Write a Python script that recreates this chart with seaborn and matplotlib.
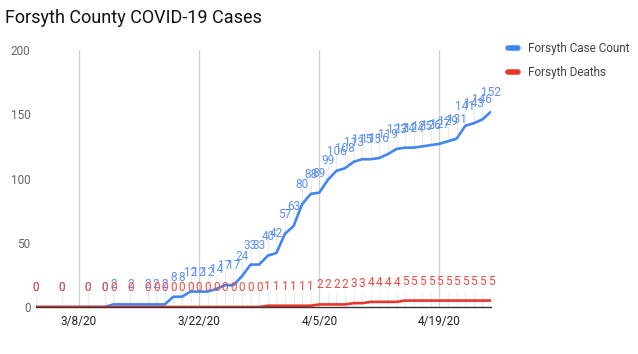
import matplotlib
matplotlib.use("Agg")
import matplotlib.pyplot as plt
import matplotlib.dates as mdates
import seaborn as sns
import pandas as pd
import numpy as np

# ---- data ----
dates = ["2020-03-03", "2020-03-06", "2020-03-09", "2020-03-11", "2020-03-12", "2020-03-14"] + \
    [d.strftime("%Y-%m-%d") for d in pd.date_range("2020-03-16", "2020-04-25", freq="D")]
case_count = [0, 0, 0, 0, 2, 2,
              2, 2, 2, 8, 8, 12, 12, 12, 14, 17, 17, 24, 33, 33, 40, 42,
              57, 63, 80, 88, 89,
              99, 106, 108, 113, 115, 115, 116, 119, 123, 124, 124, 125, 126, 127,
              129, 131, 141, 143, 146, 152]
deaths = [0] * 20 + [1] * 6 + [2] * 4 + [3] * 2 + [4] * 4 + [5] * 11
series_names = ["Forsyth Case Count", "Forsyth Deaths"]
tick_dates = ["2020-03-08", "2020-03-22", "2020-04-05", "2020-04-19"]
tick_labels = ["3/8/20", "3/22/20", "4/5/20", "4/19/20"]
y_ticks = [0, 50, 100, 150, 200]
title = "Forsyth County COVID-19 Cases"

# ---- styling ----
BLUE = "#4285F4"
RED = "#E8362B"
sns.set_style("white")
plt.rcParams["font.family"] = ["Roboto", "DejaVu Sans"]

dt = pd.to_datetime(dates)
df = pd.DataFrame({
    "date": list(dt) * 2,
    "value": case_count + deaths,
    "series": [series_names[0]] * len(dt) + [series_names[1]] * len(dt),
})

fig = plt.figure(figsize=(6.38, 3.54), dpi=100)
ax = fig.add_axes([36 / 638, 47 / 354, (491 - 36) / 638, (307 - 50) / 354])

# faint per-point grid segments
ax.vlines(dt, 0, 12, color="#ececec", lw=0.8, zorder=0)
ax.vlines(dt, np.array(case_count), np.array(case_count) + 12, color="#ececec", lw=0.8, zorder=0)
# major vertical gridlines
for t in pd.to_datetime(tick_dates):
    ax.axvline(t, color="#d0d0d0", lw=0.9, zorder=0)

sns.lineplot(data=df, x="date", y="value", hue="series",
             palette=[BLUE, RED], linewidth=1.9, ax=ax, legend=False, zorder=3)

for d, v in zip(dt, case_count):
    ax.annotate(str(v), (d, v), xytext=(0, 14), textcoords="offset points",
                ha="center", va="center", fontsize=8.5, color="#5b8ff0", zorder=4)
for d, v in zip(dt, deaths):
    ax.annotate(str(v), (d, v), xytext=(0, 14), textcoords="offset points",
                ha="center", va="center", fontsize=8.5, color="#ea4a3e", zorder=5)

ax.set_xlim(dt[0], dt[-1])
ax.set_ylim(0, 200)
ax.set_yticks(y_ticks)
ax.set_yticklabels([str(v) for v in y_ticks], fontsize=8.5, color="#666666")
ax.set_xticks(pd.to_datetime(tick_dates))
ax.set_xticklabels(tick_labels, fontsize=8.5, color="#222222")
ax.tick_params(axis="x", length=0, pad=6)
ax.tick_params(axis="y", length=0, pad=4)
ax.set_xlabel("")
ax.set_ylabel("")
for s in ["top", "right", "left"]:
    ax.spines[s].set_visible(False)
ax.spines["bottom"].set_color("#333333")
ax.spines["bottom"].set_linewidth(1.0)
ax.spines["bottom"].set_zorder(6)

fig.text(5 / 638, 1 - 18 / 354, title, fontsize=13, color="#111111", va="center", ha="left")

from matplotlib.lines import Line2D
handles = [Line2D([], [], color=BLUE, lw=4), Line2D([], [], color=RED, lw=4)]
fig.legend(handles, series_names, loc="upper left", bbox_to_anchor=(503 / 638, 1 - 37 / 354),
           frameon=False, fontsize=8.5, handlelength=0.9, handletextpad=0.8,
           labelspacing=0.95, labelcolor="#444444", borderaxespad=0)

fig.savefig("out.png", dpi=100)
